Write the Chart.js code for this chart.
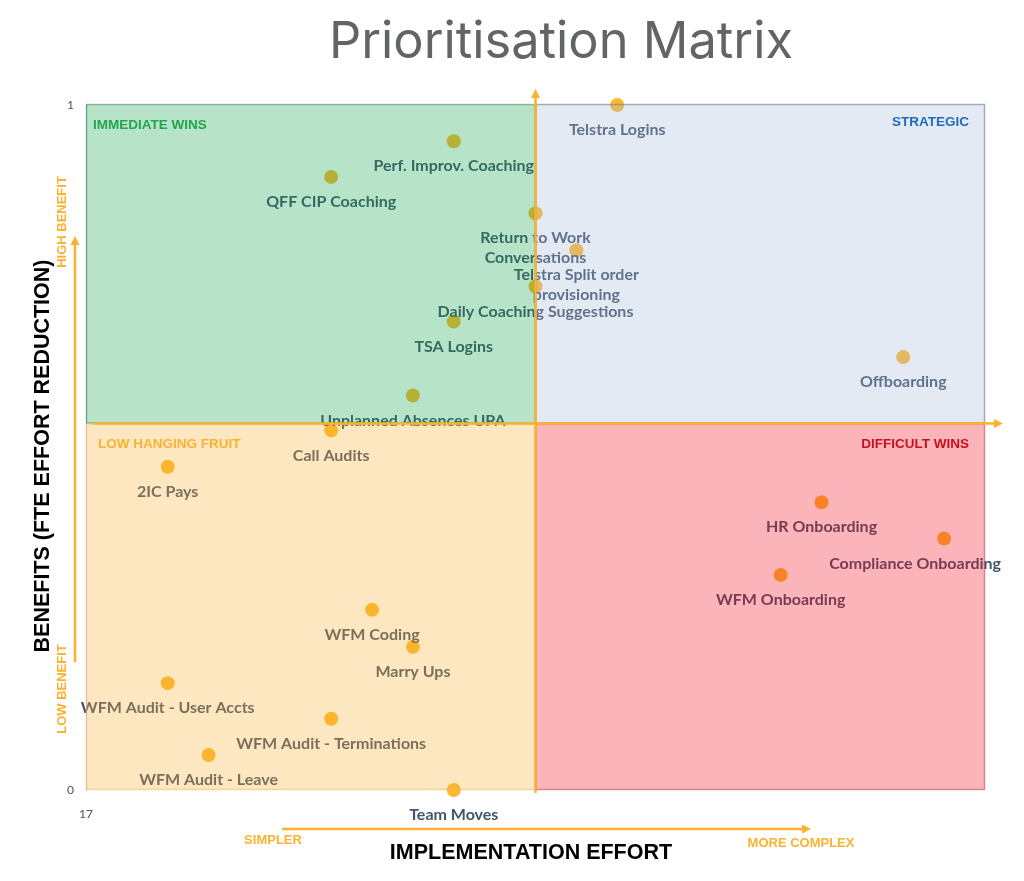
<!DOCTYPE html>
<html>
<head>
<meta charset="utf-8">
<title>Prioritisation Matrix</title>
<script src="https://cdn.jsdelivr.net/npm/chart.js@4.4.1/dist/chart.umd.min.js"></script>
<style>
  html, body { margin: 0; padding: 0; background: #fff; }
  #wrap { width: 1024px; height: 881px; }
</style>
</head>
<body>
<div id="wrap"><canvas id="matrix" width="1024" height="881"></canvas></div>
<script>
// initiatives (effort on x, benefit 0..1 on y)
var initiatives = ["Telstra Logins", "Perf. Improv. Coaching", "QFF CIP Coaching", "Return to Work\nConversations",
	"Telstra Split order\nprovisioning", "Daily Coaching Suggestions", "TSA Logins", "Offboarding",
	"Unplanned Absences UPA", "Call Audits", "2IC Pays", "HR Onboarding", "Compliance Onboarding",
	"WFM Onboarding", "WFM Coding", "Marry Ups", "WFM Audit - User Accts", "WFM Audit - Terminations",
	"WFM Audit - Leave", "Team Moves"];
var effort = [30, 26, 23, 28, 29, 28, 26, 37, 25, 23, 19, 35, 38, 34, 24, 25, 19, 23, 20, 26];
var benefit = [1.00, 0.947, 0.895, 0.842, 0.788, 0.735, 0.684, 0.632, 0.576, 0.525, 0.472, 0.420, 0.367,
	0.314, 0.263, 0.209, 0.156, 0.104, 0.051, 0.00];

var xTickValues = [17];
var yTickValues = [0, 1];
var effortMin = 17, effortMax = 39;
var effortSplit = 28;
var benefitSplit = 0.535;

var quadrantNames = ["IMMEDIATE WINS", "STRATEGIC", "LOW HANGING FRUIT", "DIFFICULT WINS"];

var orange = '#fbb231';
var labelColor = '#44546a';

function arrowHead(c, x, y, dir)
{
	c.beginPath();
	if (dir == 'up') {
		c.moveTo(x, y); c.lineTo(x - 4.5, y + 9); c.lineTo(x + 4.5, y + 9);
	} else {
		c.moveTo(x, y); c.lineTo(x - 9, y - 4.5); c.lineTo(x - 9, y + 4.5);
	}
	c.closePath();
	c.fill();
}

var matrixPlugin = {
	id: 'matrix',
	afterDatasetsDraw: function(chart)
	{
		var c = chart.ctx;
		var a = chart.chartArea;
		var xs = chart.scales.x, ys = chart.scales.y;
		var mx = xs.getPixelForValue(effortSplit);
		var my = ys.getPixelForValue(benefitSplit);
		var top = a.top - 1, bottom = a.bottom, left = a.left, right = a.right;

		c.save();

		// point labels under each dot
		c.font = 'bold 16px Lato';
		c.fillStyle = labelColor;
		c.textAlign = 'center';
		c.textBaseline = 'middle';
		for (var i = 0; i < initiatives.length; i++)
		{
			var px = xs.getPixelForValue(effort[i]);
			var py = ys.getPixelForValue(benefit[i]);
			var lines = initiatives[i].split('\n');
			for (var j = 0; j < lines.length; j++)
			{
				var w = c.measureText(lines[j]).width;
				var lx = px;
				if (lx + w / 2 > 1001) lx = 1001 - w / 2;
				c.fillText(lines[j], lx, py + 25 + j * 20);
			}
		}

		// translucent quadrant shapes laid over the points
		var quads = [
			{x: left, y: top, w: mx - left, h: my - top, fill: 'rgba(15,162,75,0.3)', line: 'rgba(40,120,70,0.4)'},
			{x: mx, y: top, w: right - mx, h: my - top, fill: 'rgba(165,185,218,0.3)', line: 'rgba(120,128,140,0.6)'},
			{x: left, y: my, w: mx - left, h: bottom - my, fill: 'rgba(248,175,45,0.3)', line: 'rgba(240,190,120,0.5)'},
			{x: mx, y: my, w: right - mx, h: bottom - my, fill: 'rgba(242,8,22,0.3)', line: 'rgba(190,60,80,0.45)'}
		];
		quads.forEach(function(q) {
			c.fillStyle = q.fill;
			c.fillRect(q.x, q.y, q.w, q.h);
			c.strokeStyle = q.line;
			c.lineWidth = 1.5;
			c.strokeRect(q.x + 0.5, q.y + 0.5, q.w - 1, q.h - 1);
		});

		// orange quadrant dividers with arrows
		c.strokeStyle = orange;
		c.fillStyle = orange;
		c.lineWidth = 2.5;
		c.beginPath();
		c.moveTo(mx, bottom + 3);
		c.lineTo(mx, 96);
		c.stroke();
		arrowHead(c, mx, 89, 'up');
		c.beginPath();
		c.moveTo(left + 8, my);
		c.lineTo(995, my);
		c.stroke();
		arrowHead(c, 1003, my, 'right');

		// benefit arrow on the left, effort arrow at the bottom
		c.beginPath();
		c.moveTo(75, 662);
		c.lineTo(75, 244);
		c.stroke();
		arrowHead(c, 75, 236, 'up');
		c.beginPath();
		c.moveTo(282, 829);
		c.lineTo(803, 829);
		c.stroke();
		arrowHead(c, 811, 829, 'right');

		// quadrant names
		c.font = 'bold 13.5px "Liberation Sans"';
		c.textBaseline = 'middle';
		c.textAlign = 'left';
		c.fillStyle = '#21a64c';
		c.fillText(quadrantNames[0], 93, 125);
		c.fillStyle = '#f9b233';
		c.fillText(quadrantNames[2], 98, 444);
		c.textAlign = 'right';
		c.fillStyle = '#1f6bbf';
		c.fillText(quadrantNames[1], 969, 122);
		c.fillStyle = '#c8101e';
		c.fillText(quadrantNames[3], 969, 444);

		// small axis hints
		c.font = 'bold 13px "Liberation Sans"';
		c.fillStyle = orange;
		c.textAlign = 'center';
		c.fillText('SIMPLER', 273, 840);
		c.fillText('MORE COMPLEX', 801, 843);
		c.save();
		c.translate(62, 222);
		c.rotate(-Math.PI / 2);
		c.fillText('HIGH BENEFIT', 0, 0);
		c.restore();
		c.save();
		c.translate(62, 689);
		c.rotate(-Math.PI / 2);
		c.fillText('LOW BENEFIT', 0, 0);
		c.restore();

		// axis titles
		c.fillStyle = '#000';
		c.font = 'bold 21.5px "Liberation Sans"';
		c.fillText('IMPLEMENTATION EFFORT', 531, 853);
		c.save();
		c.translate(43, 456);
		c.rotate(-Math.PI / 2);
		c.fillText('BENEFITS (FTE EFFORT REDUCTION)', 0, 0);
		c.restore();

		// chart title
		var title = 'Prioritisation Matrix';
		c.font = '50px Inter';
		var tw = c.measureText(title).width;
		var size = 50 * 464 / tw;
		c.font = size + 'px Inter';
		c.fillStyle = '#636466';
		c.fillText(title, 561, 43);

		c.restore();
	}
};

var points = [];
for (var i = 0; i < initiatives.length; i++)
{
	points.push({x: effort[i], y: benefit[i]});
}

var ctx = document.getElementById('matrix').getContext('2d');
var matrixChart = new Chart(ctx, {
	type: 'scatter',
	data: {
		datasets: [{
			label: 'Initiatives',
			data: points,
			pointRadius: 7,
			pointHoverRadius: 7,
			pointBorderWidth: 0,
			pointBackgroundColor: 'rgb(253,184,45)',
			clip: false
		}]
	},
	options: {
		responsive: false,
		animation: false,
		events: [],
		layout: { padding: { top: 105, right: 39, left: 0, bottom: 0 } },
		plugins: {
			legend: { display: false },
			tooltip: { enabled: false },
			title: { display: false }
		},
		scales: {
			x: {
				type: 'linear',
				min: effortMin,
				max: effortMax,
				grid: { display: false },
				border: { display: false },
				afterBuildTicks: function(s) { s.ticks = xTickValues.map(function(v) { return {value: v}; }); },
				afterFit: function(s) { s.height = 91; },
				ticks: { padding: 9, color: labelColor, font: { family: 'Lato', size: 12 }, autoSkip: false, maxRotation: 0 }
			},
			y: {
				type: 'linear',
				min: 0,
				max: 1,
				grid: { display: false },
				border: { display: true, color: '#b8c4dc', width: 1 },
				afterBuildTicks: function(s) { s.ticks = yTickValues.map(function(v) { return {value: v}; }); },
				afterFit: function(s) { s.width = 86; },
				ticks: { padding: 4, color: labelColor, font: { family: 'Lato', size: 12 } }
			}
		}
	},
	plugins: [matrixPlugin]
});
</script>
</body>
</html>
